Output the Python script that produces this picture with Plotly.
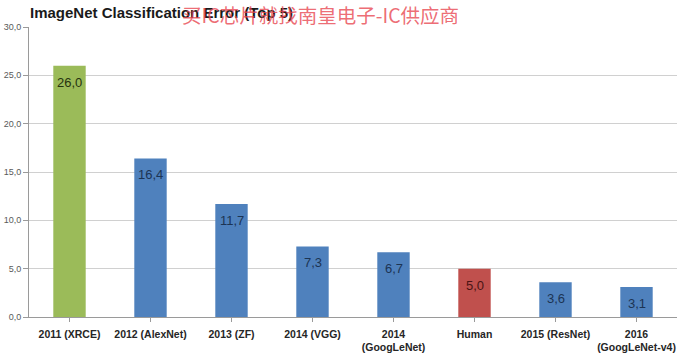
import plotly.graph_objects as go

categories = ["2011 (XRCE)", "2012 (AlexNet)", "2013 (ZF)", "2014 (VGG)",
              "2014<br>(GoogLeNet)", "Human", "2015 (ResNet)", "2016<br>(GoogLeNet-v4)"]
values = [26.0, 16.4, 11.7, 7.3, 6.7, 5.0, 3.6, 3.1]
bar_colors = ["#9BBB59", "#4F81BD", "#4F81BD", "#4F81BD", "#4F81BD", "#C0504D", "#4F81BD", "#4F81BD"]
label_colors = ["#26330F", "#1C3454", "#1C3454", "#1C3454", "#1C3454", "#4A1414", "#1C3454", "#1C3454"]
y_ticks = [0, 5, 10, 15, 20, 25, 30]
title_text = "ImageNet Classification Error (Top 5)"
watermark = "买IC芯片就找南皇电子-IC供应商"

def fmt(v):
    return f"{v:.1f}".replace(".", ",")

fig = go.Figure()
fig.add_trace(go.Bar(
    x=list(range(len(categories))), y=values,
    marker=dict(color=bar_colors, line=dict(width=0)),
    width=0.4, hoverinfo="skip",
))

for i, (v, c) in enumerate(zip(values, label_colors)):
    fig.add_annotation(x=i, y=v, text=fmt(v), showarrow=False, yanchor="top",
                       yshift=-7, font=dict(size=13, color=c, family="Liberation Sans"))

fig.add_annotation(xref="paper", yref="paper", x=(28 - 29) / 648, y=1 + (27 - 12) / 290,
                   xanchor="left", yanchor="middle", text="<b>" + title_text + "</b>",
                   showarrow=False, font=dict(size=15, color="#1a1a1a", family="Liberation Sans"))
fig.add_annotation(xref="paper", yref="paper", x=(180 - 29) / 648, y=1 + (27 - 15) / 290,
                   xanchor="left", yanchor="middle", text=watermark,
                   showarrow=False, font=dict(size=19.5, color="rgba(232,70,80,0.8)", family="Noto Sans CJK SC"))

fig.update_layout(
    width=680, height=354,
    margin=dict(l=29, r=3, t=27, b=37),
    paper_bgcolor="white", plot_bgcolor="white",
    showlegend=False,
    xaxis=dict(
        tickmode="array", tickvals=list(range(len(categories))),
        ticktext=["<b>" + c + "</b>" for c in categories],
        range=[-0.5, len(categories) - 0.5],
        showgrid=False, zeroline=False, showline=True, linecolor="#9a9a9a", linewidth=1,
        ticks="outside", tickson="boundaries", ticklen=4, tickcolor="#9a9a9a",
        tickfont=dict(size=10.5, color="#262626", family="Liberation Sans"),
        ticklabelstandoff=3,
        automargin=False,
    ),
    yaxis=dict(
        range=[0, 30], tickmode="array", tickvals=y_ticks,
        ticktext=[fmt(t) for t in y_ticks],
        showgrid=True, gridcolor="#d0d0d0", gridwidth=1,
        zeroline=False, showline=True, linecolor="#9a9a9a", linewidth=1,
        ticks="outside", ticklen=5, tickcolor="#9a9a9a",
        tickfont=dict(size=9, color="#595959", family="Liberation Sans"),
        automargin=False,
    ),
)

fig.write_html("out.html")
